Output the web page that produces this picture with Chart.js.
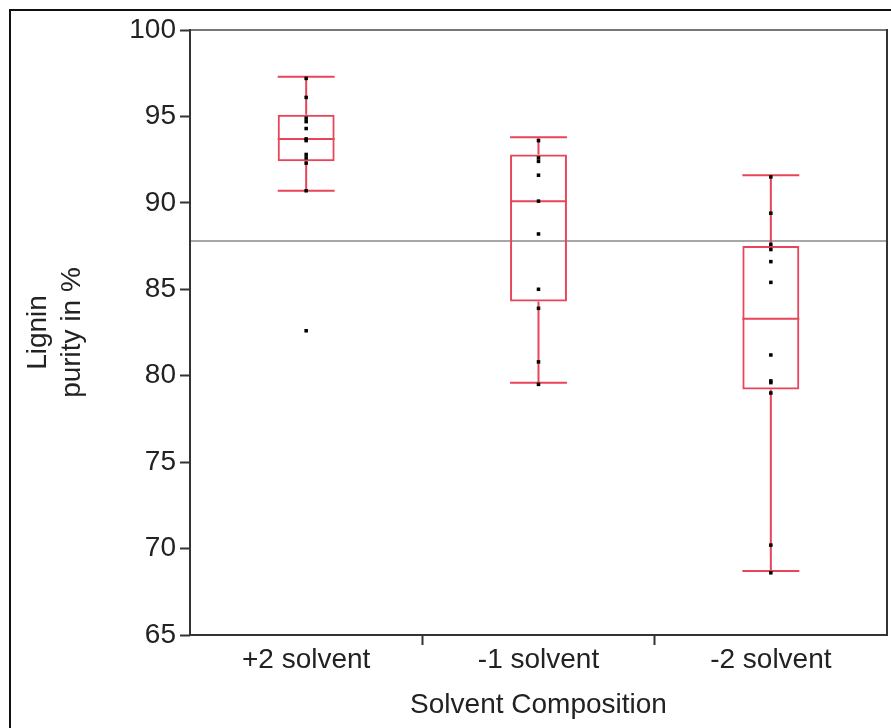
<!DOCTYPE html>
<html>
<head>
<meta charset="utf-8">
<script src="https://cdn.jsdelivr.net/npm/chart.js@4"></script>
<style>
  body { margin: 0; background: #fff; }
  #wrap { width: 891px; height: 728px; }
</style>
</head>
<body>
<div id="wrap"><canvas id="boxChart" width="891" height="728"></canvas></div>
<script>
// values
const categories = ['+2 solvent', '-1 solvent', '-2 solvent'];
const whiskerLow = [90.7, 79.6, 68.7];
const q1 = [92.4, 84.3, 79.2];
const median = [93.7, 90.1, 83.3];
const q3 = [95.1, 92.8, 87.5];
const whiskerHigh = [97.3, 93.8, 91.6];
const obsPlus2 = [97.2, 96.1, 94.9, 94.7, 94.3, 93.7, 93.6, 92.8, 92.6, 92.3, 90.7, 82.6];
const obsMinus1 = [93.6, 92.6, 92.4, 91.6, 90.1, 88.2, 85.0, 83.9, 80.8, 79.5];
const obsMinus2 = [91.5, 89.4, 87.6, 87.3, 86.6, 85.4, 81.2, 79.7, 79.6, 79.0, 70.2, 68.6];
const grandMean = 87.8;
const yTicks = [65, 70, 75, 80, 85, 90, 95, 100];

const boxColor = '#e8445a';
const textColor = '#222';
const fontFamily = '"Liberation Sans", Arial, sans-serif';
const boxFrac = 0.245;

const pointData = [];
[obsPlus2, obsMinus1, obsMinus2].forEach((arr, i) => {
    arr.forEach(v => pointData.push({ x: categories[i], y: v }));
});

// whiskers, median and the grand mean line
const boxExtras = {
    id: 'boxExtras',
    beforeDraw(chart) {
        const ctx = chart.ctx;
        ctx.save();
        ctx.strokeStyle = '#111';
        ctx.lineWidth = 2;
        ctx.strokeRect(10, 10, 1000, 1000);
        ctx.restore();
    },
    beforeDatasetsDraw(chart) {
        const { ctx, chartArea, scales: { x, y } } = chart;
        const half = (x.getPixelForValue(1) - x.getPixelForValue(0)) * boxFrac / 2;
        ctx.save();
        ctx.strokeStyle = '#8a8a8a';
        ctx.lineWidth = 1.5;
        const gy = y.getPixelForValue(grandMean);
        ctx.beginPath();
        ctx.moveTo(chartArea.left, gy);
        ctx.lineTo(chartArea.right, gy);
        ctx.stroke();

        ctx.strokeStyle = boxColor;
        ctx.lineWidth = 2;
        categories.forEach((c, i) => {
            const cx = x.getPixelForValue(i);
            const yLo = y.getPixelForValue(whiskerLow[i]);
            const yHi = y.getPixelForValue(whiskerHigh[i]);
            const yQ1 = y.getPixelForValue(q1[i]);
            const yQ3 = y.getPixelForValue(q3[i]);
            const yMed = y.getPixelForValue(median[i]);
            ctx.beginPath();
            ctx.moveTo(cx, yHi); ctx.lineTo(cx, yQ3);
            ctx.moveTo(cx, yQ1); ctx.lineTo(cx, yLo);
            ctx.moveTo(cx - half, yHi); ctx.lineTo(cx + half, yHi);
            ctx.moveTo(cx - half, yLo); ctx.lineTo(cx + half, yLo);
            ctx.moveTo(cx - half, yMed); ctx.lineTo(cx + half, yMed);
            ctx.stroke();
        });
        ctx.restore();
    },
    afterDraw(chart) {
        const { ctx, chartArea: { left, top, right, bottom } } = chart;
        ctx.save();
        ctx.lineWidth = 2;
        ctx.strokeStyle = '#777';
        ctx.beginPath();
        ctx.moveTo(left, top); ctx.lineTo(right, top);
        ctx.stroke();
        ctx.strokeStyle = '#333';
        ctx.beginPath();
        ctx.moveTo(left, top - 1); ctx.lineTo(left, bottom);
        ctx.lineTo(right, bottom); ctx.lineTo(right, top - 1);
        ctx.stroke();
        ctx.restore();
    }
};

new Chart(document.getElementById('boxChart').getContext('2d'), {
    type: 'bar',
    data: {
        labels: categories,
        datasets: [
            {
                type: 'line',
                data: pointData,
                showLine: false,
                pointStyle: 'rect',
                pointRadius: 2.5,
                pointBackgroundColor: '#000',
                pointBorderWidth: 0,
                order: 0
            },
            {
                data: categories.map((c, i) => [q1[i], q3[i]]),
                backgroundColor: 'rgba(0,0,0,0)',
                borderColor: boxColor,
                borderWidth: 2,
                borderSkipped: false,
                categoryPercentage: 1,
                barPercentage: boxFrac,
                order: 1
            }
        ]
    },
    options: {
        responsive: false,
        animation: false,
        devicePixelRatio: 1,
        layout: { padding: { left: 0, top: 30, right: 1, bottom: 0 } },
        plugins: { legend: { display: false }, tooltip: { enabled: false } },
        scales: {
            x: {
                offset: true,
                afterFit: s => { s.height = 93; },
                border: { display: false },
                grid: {
                    offset: true,
                    drawOnChartArea: false,
                    tickLength: 10,
                    tickWidth: 2,
                    tickColor: c => (c.index > 0 && c.index < 3) ? '#333' : 'rgba(0,0,0,0)'
                },
                ticks: { color: textColor, padding: -2, font: { family: fontFamily, size: 28 } },
                title: {
                    display: true,
                    text: 'Solvent Composition',
                    color: textColor,
                    font: { family: fontFamily, size: 28, lineHeight: 1.2 },
                    padding: { top: 0, bottom: 6 }
                }
            },
            y: {
                min: 65,
                max: 100,
                afterFit: s => { s.width = 190; },
                afterBuildTicks: s => { s.ticks = yTicks.map(v => ({ value: v })); },
                border: { display: false },
                grid: { drawOnChartArea: false, tickLength: 10, tickWidth: 2, tickColor: '#333' },
                ticks: { color: textColor, padding: 4, font: { family: fontFamily, size: 28 } },
                title: {
                    display: true,
                    text: ['Lignin', 'purity in %'],
                    color: textColor,
                    font: { family: fontFamily, size: 28, lineHeight: 1.21 },
                    padding: { top: 21, bottom: 0 }
                }
            }
        }
    },
    plugins: [boxExtras]
});
</script>
</body>
</html>
